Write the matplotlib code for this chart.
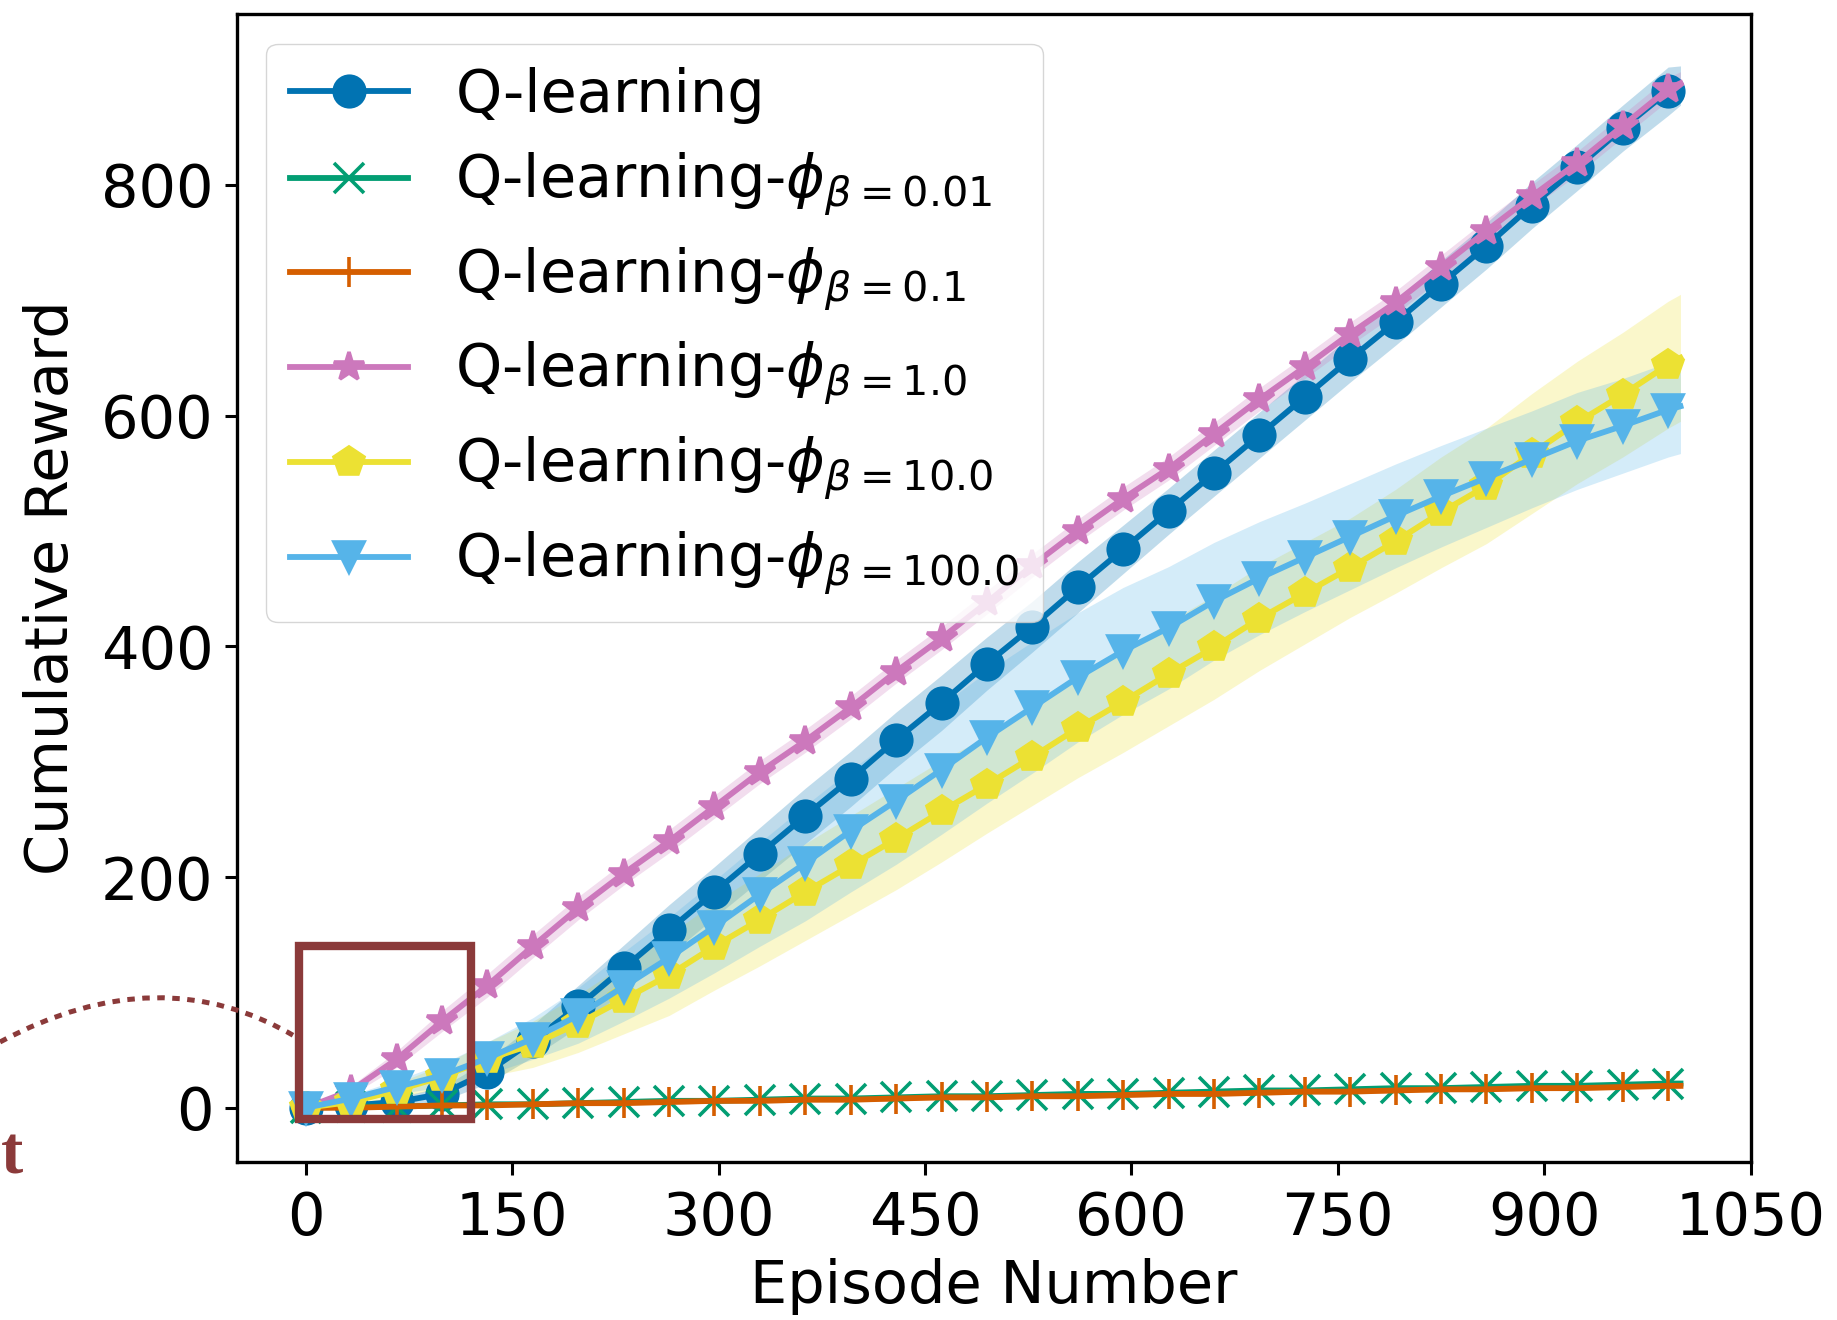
import matplotlib
matplotlib.use('Agg')
import matplotlib.pyplot as plt
import matplotlib.patches as mpatches
from matplotlib.path import Path

# Эпизоды (маркеры каждые 33 эпизода, последняя точка — 999)
episodes = [0, 33, 66, 99, 132, 165, 198, 231, 264, 297, 330, 363, 396, 429, 462,
            495, 528, 561, 594, 627, 660, 693, 726, 759, 792, 825, 858, 891, 924,
            957, 990, 999]

# Средние значения накопленной награды
q_mean = [0, 2, 5, 12, 31, 58, 88, 121, 154, 187, 220, 253, 285, 319, 351, 385,
          417, 451, 484, 517, 550, 583, 616, 649, 681, 714, 747, 782, 815, 849, 881, 886]
b001_mean = [0, 1, 1, 2, 3, 3, 4, 5, 6, 6, 7, 8, 8, 9, 10, 10, 11, 12, 12, 13, 14,
             15, 15, 16, 17, 17, 18, 19, 19, 20, 21, 21]
b01_mean = [0, 0, 1, 2, 2, 3, 4, 4, 5, 6, 6, 7, 7, 8, 9, 9, 10, 10, 11, 12, 12, 13,
            14, 14, 15, 16, 16, 17, 17, 18, 19, 19]
b1_mean = [0, 15, 42, 75, 106, 140, 173, 203, 231, 261, 291, 318, 347, 378, 407, 438,
           470, 500, 528, 554, 584, 614, 642, 671, 698, 729, 760, 790, 819, 851, 883, 888]
b10_mean = [0, 5, 15, 27, 42, 55, 73, 94, 115, 140, 163, 187, 210, 233, 257, 280, 304,
            329, 352, 376, 399, 424, 446, 468, 491, 516, 539, 567, 594, 618, 644, 650]
b100_mean = [0, 8, 18, 28, 43, 60, 80, 105, 130, 157, 185, 212, 240, 266, 293, 321,
             347, 373, 396, 416, 439, 459, 477, 495, 513, 530, 546, 562, 578, 591, 605, 608]

# Разброс (стандартное отклонение)
q_std = [0, 2, 4, 6, 10, 14, 18, 20, 22, 22, 23, 24, 24, 24, 24, 23, 22, 22, 21, 20,
         20, 20, 20, 20, 20, 20, 20, 20, 20, 20, 21, 17]
b001_std = [0, 1, 1, 1, 1, 1, 1, 1, 2, 2, 2, 2, 2, 2, 2, 2, 2, 2, 2, 2, 2, 2, 2, 2,
            2, 2, 2, 2, 2, 2, 2, 2]
b01_std = [0, 1, 1, 1, 1, 1, 1, 1, 2, 2, 2, 2, 2, 2, 2, 2, 2, 2, 2, 2, 2, 2, 2, 2,
           2, 2, 2, 2, 2, 2, 2, 2]
b1_std = [0, 4, 7, 9, 10, 10, 10, 10, 10, 10, 10, 10, 10, 10, 10, 10, 10, 10, 10, 10,
          10, 10, 10, 10, 10, 10, 10, 10, 10, 10, 10, 10]
b10_std = [0, 3, 6, 10, 15, 20, 25, 30, 35, 38, 40, 42, 43, 44, 44, 42, 42, 43, 44, 45,
           45, 45, 44, 43, 45, 48, 50, 52, 53, 54, 55, 55]
b100_std = [0, 3, 6, 10, 14, 18, 24, 30, 35, 40, 45, 50, 53, 55, 56, 57, 57, 56, 55,
            53, 51, 49, 47, 46, 45, 44, 43, 42, 42, 41, 41, 41]

labels = ['Q-learning',
          r'Q-learning-$\phi_{\beta=0.01}$',
          r'Q-learning-$\phi_{\beta=0.1}$',
          r'Q-learning-$\phi_{\beta=1.0}$',
          r'Q-learning-$\phi_{\beta=10.0}$',
          r'Q-learning-$\phi_{\beta=100.0}$']
means = [q_mean, b001_mean, b01_mean, b1_mean, b10_mean, b100_mean]
stds = [q_std, b001_std, b01_std, b1_std, b10_std, b100_std]
colors = ['#0173b2', '#029e73', '#d55e00', '#cc78bc', '#ece133', '#56b4e9']
markers = ['o', 'x', '+', '*', 'p', 'v']

plt.rcParams['font.family'] = ['DejaVu Sans']
plt.rcParams['font.size'] = 42.5

fig = plt.figure(figsize=(18.37, 13.2), dpi=100)
ax = fig.add_axes([0.129, 0.1197, 0.824, 0.8697])

for m, s, c, mk, lab in zip(means, stds, colors, markers, labels):
    lo = [a - b for a, b in zip(m, s)]
    hi = [a + b for a, b in zip(m, s)]
    ax.plot(episodes, m, color=c, marker=mk, markersize=22, markeredgewidth=2.6,
            linewidth=4.2, markevery=slice(0, 31), label=lab)
    ax.fill_between(episodes, lo, hi, color=c, alpha=0.25, linewidth=0)

ax.set_xlim(-50, 1050)
ax.set_ylim(-47, 948)
ax.set_xticks([0, 150, 300, 450, 600, 750, 900, 1050])
ax.set_yticks([0, 200, 400, 600, 800])
ax.set_xlabel('Episode Number', labelpad=8)
ax.set_ylabel('Cumulative Reward', labelpad=15)
ax.tick_params(length=9, width=2.2, pad=8)
ax.tick_params(axis='x', pad=11)
for sp in ax.spines.values():
    sp.set_linewidth(2.4)

ax.legend(loc='upper left', fontsize=42.5, handlelength=2.0, handletextpad=0.8,
          labelspacing=0.45, borderpad=0.4, framealpha=0.8, edgecolor='#cccccc')

# Выделенная область и пунктирная дуга
ax.add_patch(mpatches.Rectangle((-5, -10), 125, 150, fill=False,
                                edgecolor='#8b3a3a', linewidth=6, clip_on=False, zorder=10))

W, H = 1837.0, 1320.0
pts = [(0 / W, 1 - 1042 / H), (160 / W, 1 - 956 / H), (296 / W, 1 - 1037 / H)]
arc = mpatches.PathPatch(Path(pts, [Path.MOVETO, Path.CURVE3, Path.CURVE3]),
                         transform=fig.transFigure, fill=False, edgecolor='#8b3a3a',
                         linewidth=3.6, linestyle=(0, (1.5, 1.5)), capstyle='butt')
fig.add_artist(arc)

fig.text(1 / W, 1 - 1173 / H, 't', ha='left', va='baseline', color='#8b3a3a',
         fontsize=48, family='Liberation Serif', fontweight='bold')

fig.savefig('out.png', dpi=100)
